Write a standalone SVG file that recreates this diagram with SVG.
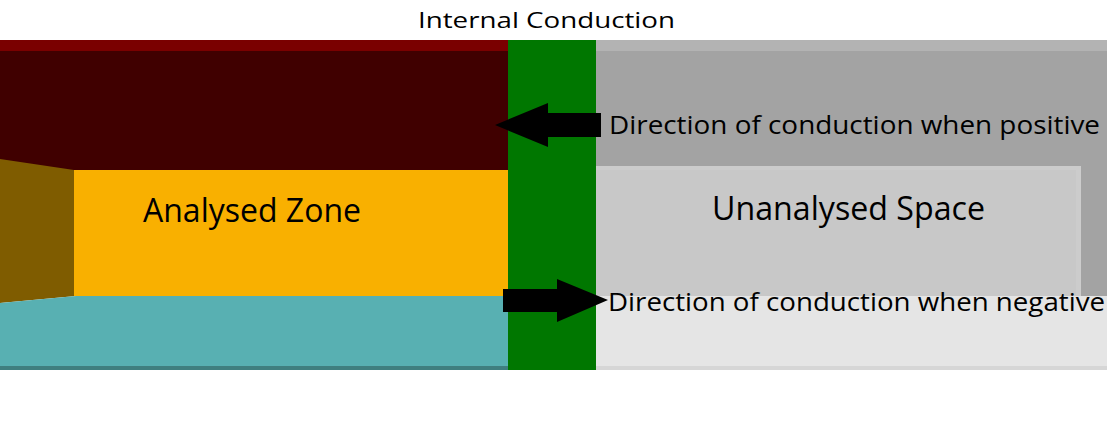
<svg xmlns="http://www.w3.org/2000/svg" width="1107" height="423" viewBox="0 0 1107 423">
<style>
.t{font-family:"Open Sans","Noto Sans",sans-serif;fill:#000}
</style>
<rect width="1107" height="423" fill="#fff"/>
<g id="analysed-zone">
<rect x="0" y="40" width="508" height="11" fill="#7a0000"/>
<rect x="0" y="51" width="508" height="119" fill="#400000"/>
<polygon points="0,159 74,170 76,296 0,303" fill="#7f5c00"/>
<rect x="74" y="170" width="434" height="126" fill="#f9b000"/>
<polygon points="0,303 76,296 508,296 508,366 0,366" fill="#58b0b2"/>
<rect x="0" y="366" width="508" height="4" fill="#3f7f7f"/>
<text class="t" x="143" y="222" font-size="32" textLength="218" lengthAdjust="spacingAndGlyphs">Analysed Zone</text>
</g>
<g id="unanalysed-space">
<rect x="596" y="40" width="511" height="11" fill="#b3b3b3"/>
<rect x="596" y="51" width="511" height="245" fill="#a3a3a3"/>
<rect x="596" y="166" width="485" height="130" fill="#cccccc"/>
<rect x="596" y="170" width="480" height="126" fill="#c8c8c8"/>
<rect x="596" y="296" width="511" height="70" fill="#e5e5e5"/>
<rect x="596" y="366" width="511" height="4" fill="#d6d6d6"/>
<text class="t" x="712" y="220" font-size="32" textLength="273" lengthAdjust="spacingAndGlyphs">Unanalysed Space</text>
</g>
<g id="internal-conduction">
<rect x="508" y="40" width="88" height="330" fill="#007700"/>
<text class="t" x="418" y="28" font-size="22" textLength="257" lengthAdjust="spacingAndGlyphs">Internal Conduction</text>
</g>
<g id="connectors">
<polygon points="495,125 548,103 548,113 601,113 601,137 548,137 548,147" fill="#000"/>
<polygon points="503,289 557,289 557,279 608,300 557,322 557,312 503,312" fill="#000"/>
</g>
<g id="labels">
<text class="t" x="609" y="134" font-size="26" textLength="491" lengthAdjust="spacingAndGlyphs">Direction of conduction when positive</text>
<text class="t" x="608" y="311" font-size="26" textLength="497" lengthAdjust="spacingAndGlyphs">Direction of conduction when negative</text>
</g>
</svg>
